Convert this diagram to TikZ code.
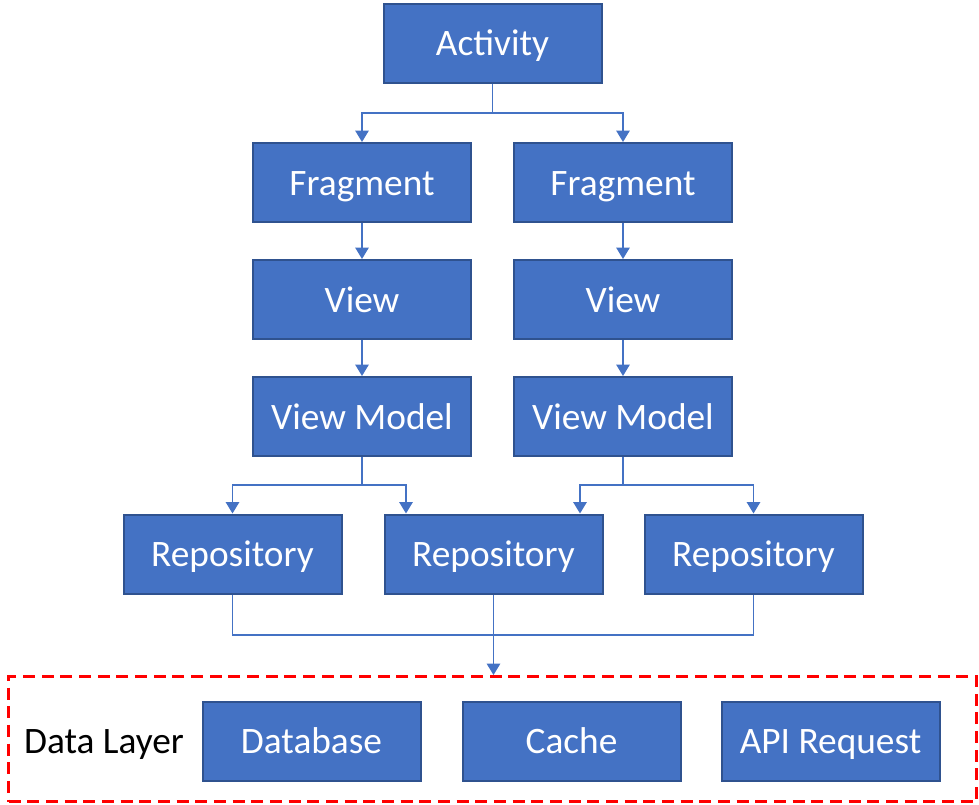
\documentclass[tikz,border=0pt]{standalone}
\usepackage{fontspec}
\setmainfont{Carlito}
\usetikzlibrary{arrows.meta,calc}
\definecolor{boxblue}{HTML}{4472C4}
\definecolor{boxedge}{HTML}{2F528F}
\begin{document}
\begin{tikzpicture}[x=0.75pt,y=-0.75pt,
  blk/.style={rectangle, fill=boxblue, draw=boxedge, line width=1.5pt,
    minimum width=218*0.75pt, minimum height=79*0.75pt, inner sep=0pt,
    text height=18.8pt, text depth=0pt,
    text=white, font=\fontsize{28}{33}\selectfont},
  conn/.style={draw=boxblue, line width=1.1pt, -{Triangle[width=10pt,length=8.5pt]}},
  plain/.style={draw=boxblue, line width=1.1pt},
  dashbox/.style={rectangle, draw=red, line width=2.2pt, dash pattern=on 9pt off 5pt,
    minimum width=968*0.75pt, minimum height=125*0.75pt, inner sep=0pt},
  lbl/.style={font=\fontsize{28}{33}\selectfont, text=black, inner sep=0pt,
    text height=18.8pt, text depth=0pt}]
\useasboundingbox (0,0) rectangle (979,804);
\node[blk] (act) at (492.5,43) {Activity};
\node[blk] (f1) at (362,182.5) {Fragment};
\node[blk] (f2) at (623,182.5) {Fragment};
\node[blk] (v1) at (362,299.5) {View};
\node[blk] (v2) at (623,299.5) {View};
\node[blk] (vm1) at (362,416.5) {View Model};
\node[blk] (vm2) at (623,416.5) {View Model};
\node[blk] (r1) at (232.5,554) {Repository};
\node[blk] (r2) at (493.5,554) {Repository};
\node[blk] (r3) at (753.5,554) {Repository};
\node[dashbox] (dl) at (492.5,739) {};
\node[lbl] (dlt) at (104,741) {Data Layer};
\node[blk] (db) at (311.5,741) {Database};
\node[blk] (ca) at (571.5,741) {Cache};
\node[blk] (api) at (830.5,741) {API Request};
% connectors
\coordinate (j1) at (492.5,113);
\draw[conn] (act.south) -- (j1) -| (f1.north);
\draw[conn] (j1) -| (f2.north);
\draw[conn] (f1) -- (v1);
\draw[conn] (f2) -- (v2);
\draw[conn] (v1) -- (vm1);
\draw[conn] (v2) -- (vm2);
\coordinate (j2) at (362,485);
\draw[conn] (vm1.south) -- (j2) -| ($(r2.north)+(-87.5,0)$);
\draw[conn] (j2) -| (r1.north);
\coordinate (j3) at (623,485);
\draw[conn] (vm2.south) -- (j3) -| ($(r2.north)+(86.5,0)$);
\draw[conn] (j3) -| (r3.north);
\coordinate (j4) at (493.5,635);
\draw[plain] (r1.south) |- (j4) -| (r3.south);
\draw[conn] (r2.south) -- (r2.south |- dl.north);
\end{tikzpicture}
\end{document}
